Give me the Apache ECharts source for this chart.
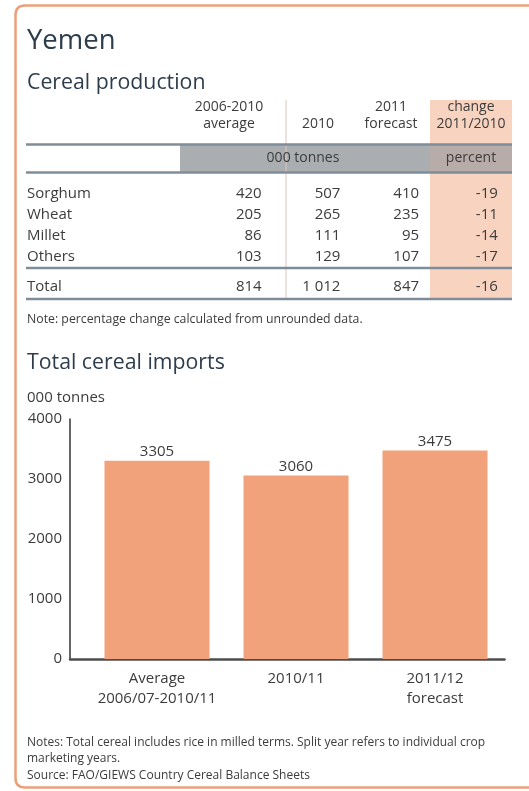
<!DOCTYPE html>
<html><head><meta charset="utf-8">
<script src="https://cdn.jsdelivr.net/npm/echarts@6/dist/echarts.min.js"></script>
<style>html,body{margin:0;padding:0;background:#fff;overflow:hidden}#c{width:529px;height:791px}</style>
</head><body><div id="c"></div>
<script>
// ---- data ----
const rowNames = ['Sorghum', 'Wheat', 'Millet', 'Others'];
const avg0610 = [420, 205, 86, 103];
const prod2010 = [507, 265, 111, 129];
const fc2011 = [410, 235, 95, 107];
const change1110 = [-19, -11, -14, -17];
const totalName = ['Total'];
const totalRow = [814, 1012, 847, -16];
const tableCols = ['2006-2010\naverage', '2010', '2011\nforecast', 'change\n2011/2010'];
const importCats = ['Average\n2006/07-2010/11', '2010/11', '2011/12\nforecast'];
const imports = [3305, 3060, 3475];
const yTicks = [0, 1000, 2000, 3000, 4000];

// ---- styles ----
const FONT = "'Open Sans', sans-serif";
const TXT = '#3c3c3c';
const HEAD = '#2e3d4c';
const RULE = '#7f8d9a';
const BORDER = { stroke: '#EAA07A', lineWidth: 2.5, fill: 'none' };

const fmt = v => {
  const s = String(Math.abs(v));
  const t = s.length > 3 ? s.slice(0, s.length - 3) + ' ' + s.slice(-3) : s;
  return (v < 0 ? '-' : '') + t;
};

const bodyCells = [];
[avg0610, prod2010, fc2011, change1110].forEach((col, ci) =>
  col.forEach((v, ri) => bodyCells.push([ci, ri, v])));
const totalCells = totalRow.map((v, ci) => [ci, 0, v]);

const cellRender = (params, api) => {
  const c = api.coord([api.value(0), api.value(1)]);
  const w = api.size([1, 0])[0];
  return {
    type: 'text', x: c[0] + w / 2, y: c[1],
    style: { text: fmt(api.value(2)), align: 'right', verticalAlign: 'middle',
      font: '15px ' + FONT, fill: TXT }
  };
};

const headerX = [229, 318, 391, 471];
const graphics = [
  { type: 'polyline', z: -5, shape: { points: [[600, 5.5], [25, 5.5]] }, style: BORDER },
  { type: 'bezierCurve', z: -5, shape: { x1: 25, y1: 5.5, cpx1: 15.5, cpy1: 5.5, x2: 15.5, y2: 15 }, style: BORDER },
  { type: 'polyline', z: -5, shape: { points: [[15.5, 15], [15.5, 778]] }, style: BORDER },
  { type: 'bezierCurve', z: -5, shape: { x1: 15.5, y1: 778, cpx1: 15.5, cpy1: 787.5, x2: 25, y2: 787.5 }, style: BORDER },
  { type: 'polyline', z: -5, shape: { points: [[25, 787.5], [600, 787.5]] }, style: BORDER },
  { type: 'rect', z: -4, shape: { x: 430, y: 100, width: 82, height: 200 }, style: { fill: '#F8D3C0' } },
  { type: 'rect', z: -3, shape: { x: 180, y: 145, width: 250, height: 27 }, style: { fill: '#ABAEB1' } },
  { type: 'rect', z: -3, shape: { x: 430, y: 145, width: 82, height: 27 }, style: { fill: '#B8ACA8' } },
  { type: 'line', z: -2, shape: { x1: 286, y1: 100, x2: 286, y2: 300 }, style: { stroke: '#D8C6BE', lineWidth: 1 } },
  ...[144.5, 172.5, 268, 299].map(y => ({ type: 'line', z: -1,
    shape: { x1: 26, y1: y, x2: 512, y2: y }, style: { stroke: RULE, lineWidth: 2.5 } })),
  { type: 'text', x: 27, y: 41, style: { text: 'Yemen', font: '27.5px ' + FONT, fill: HEAD, verticalAlign: 'middle' } },
  { type: 'text', x: 27, y: 83, style: { text: 'Cereal production', font: '21.3px ' + FONT, fill: HEAD, verticalAlign: 'middle' } },
  ...tableCols.map((t, i) => ({ type: 'text', x: headerX[i], y: 133,
    style: { text: t, font: '14px ' + FONT, fill: TXT, align: 'center', verticalAlign: 'bottom', lineHeight: 17 } })),
  { type: 'text', x: 303, y: 158.5, style: { text: '000 tonnes', font: '14px ' + FONT, fill: TXT, align: 'center', verticalAlign: 'middle' } },
  { type: 'text', x: 471, y: 158.5, style: { text: 'percent', font: '14px ' + FONT, fill: TXT, align: 'center', verticalAlign: 'middle' } },
  { type: 'text', x: 27, y: 319, style: { text: 'Note: percentage change calculated from unrounded data.', font: '12.3px ' + FONT, fill: TXT, verticalAlign: 'middle' } },
  { type: 'text', x: 27, y: 363, style: { text: 'Total cereal imports', font: '21.3px ' + FONT, fill: HEAD, verticalAlign: 'middle' } },
  { type: 'text', x: 27, y: 398, style: { text: '000 tonnes', font: '15px ' + FONT, fill: TXT, verticalAlign: 'middle' } },
  { type: 'text', x: 27, y: 734, style: { text: 'Notes: Total cereal includes rice in milled terms. Split year refers to individual crop\nmarketing years.\nSource: FAO/GIEWS Country Cereal Balance Sheets',
    font: '12px ' + FONT, fill: TXT, verticalAlign: 'top', lineHeight: 16.7 } }
];

const chart = echarts.init(document.getElementById('c'), null, { renderer: 'canvas' });
chart.setOption({
  backgroundColor: '#fff',
  animation: false,
  graphic: graphics,
  grid: [
    { left: 87.5, right: 24.5, top: 419, bottom: 132 },
    { left: 70, right: 24.5, top: 419, bottom: 132 },
    { left: 183, right: 31.2, top: 183.5, height: 84 },
    { left: 183, right: 31.2, top: 277, height: 20 }
  ],
  xAxis: [
    { gridIndex: 0, type: 'category', data: importCats, axisLine: { show: false }, axisTick: { show: false },
      axisLabel: { interval: 0, margin: 10, fontSize: 15, fontFamily: FONT, color: TXT, lineHeight: 20 } },
    { gridIndex: 1, type: 'value', min: 0, max: 1, axisLine: { show: true, lineStyle: { color: '#4d4d4d', width: 2.5 } },
      axisTick: { show: false }, axisLabel: { show: false }, splitLine: { show: false } },
    { gridIndex: 2, type: 'category', data: tableCols, show: false },
    { gridIndex: 3, type: 'category', data: tableCols, show: false }
  ],
  yAxis: [
    { gridIndex: 0, type: 'value', min: yTicks[0], max: yTicks[yTicks.length - 1], interval: 1000, offset: 17.5,
      axisLine: { show: true, lineStyle: { color: '#333', width: 1.5 } }, axisTick: { show: false },
      splitLine: { show: false },
      axisLabel: { margin: 8, fontSize: 15, fontFamily: FONT, color: TXT, formatter: v => String(v) } },
    { gridIndex: 1, type: 'value', show: false },
    { gridIndex: 2, type: 'category', data: rowNames, inverse: true, axisLine: { show: false }, axisTick: { show: false },
      axisLabel: { align: 'left', margin: 156, fontSize: 15, fontFamily: FONT, color: TXT } },
    { gridIndex: 3, type: 'category', data: totalName, inverse: true, axisLine: { show: false }, axisTick: { show: false },
      axisLabel: { align: 'left', margin: 156, fontSize: 15, fontFamily: FONT, color: TXT } }
  ],
  series: [
    { type: 'bar', xAxisIndex: 0, yAxisIndex: 0, data: imports, barWidth: 105,
      itemStyle: { color: '#F2A27B' },
      label: { show: true, position: 'top', distance: 1, fontSize: 15, fontFamily: FONT, color: TXT } },
    { type: 'custom', xAxisIndex: 2, yAxisIndex: 2, data: bodyCells, renderItem: cellRender },
    { type: 'custom', xAxisIndex: 3, yAxisIndex: 3, data: totalCells, renderItem: cellRender }
  ]
});
</script></body></html>
